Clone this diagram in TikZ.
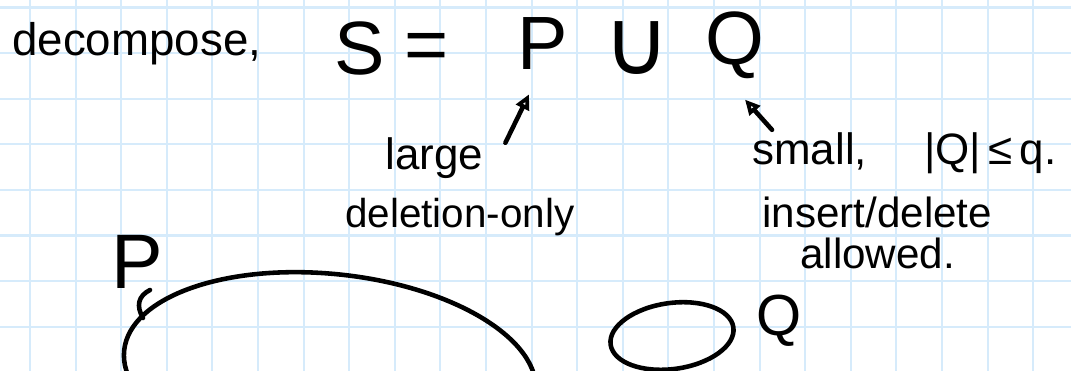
\documentclass[tikz,border=0pt]{standalone}
\usepackage{fontspec}
\setmainfont{Liberation Sans}
\newfontfamily\symbfont{DejaVu Sans}
\usetikzlibrary{arrows.meta}
\definecolor{gridblue}{RGB}{214,235,251}
\tikzset{
  ink/.style={line width=2.6pt, line cap=round, line join=round},
  big/.style={inner sep=0pt, font=\fontsize{43}{50}\selectfont},
  note/.style={inner sep=0pt, font=\fontsize{25}{30}\selectfont},
  pointer/.style={ink, -{Triangle[open, length=3mm, width=2.8mm]}},
}
\begin{document}
\begin{tikzpicture}[x=0.02cm, y=-0.02cm]
\useasboundingbox (0,0) rectangle (1071,371);
\fill[white] (0,0) rectangle (1071,371);
% grid paper
\foreach \k in {0,...,22}
  \draw[gridblue, line width=1.2pt] (30+45.6*\k,0) -- (30+45.6*\k,371);
\foreach \k in {0,...,7}
  \draw[gridblue, line width=1.2pt] (0,7.5+45.6*\k) -- (1071,7.5+45.6*\k);
% top line
\node[big, font=\fontsize{26}{30}\selectfont, anchor=base west] (decomp) at (12,56) {decompose,};
\node[big, anchor=base] (S) at (360,75) {S};
\node[big] (eq) at (427,52) {=};
\node[big, anchor=base] (P) at (543,70) {P};
\node[big, font=\symbfont\fontsize{52}{58}\selectfont] (cup) at (637,48) {∪};
\node[big, anchor=base] (Q) at (735,65) {Q};
% notes
\node[note, anchor=base west] (large) at (385,170) {large};
\node[note, font=\fontsize{23}{28}\selectfont, anchor=base west] (delonly) at (345,228) {deletion-only};
\node[note, anchor=base west] (small) at (752,165) {small,\hspace{1.3em}|Q|\,≤\,q.};
\node[note, font=\fontsize{24}{28}\selectfont, anchor=base west] (insdel) at (762,228) {insert/delete};
\node[note, font=\fontsize{24}{28}\selectfont, anchor=base west] (allowed) at (800,268) {allowed.};
\draw[pointer] ([shift={(22,5)}]large.north east) -- ([shift={(-14,24)}]P.south);
\draw[pointer] ([shift={(20,-3)}]small.north west) -- ([shift={(10,20)}]Q.south);
% the two sets
\begin{scope}
\clip (0,0) rectangle (1071,371);
\draw[ink, rotate around={-6:(330,372)}] (330,372) ellipse [x radius=4.14cm, y radius=1.96cm];
\end{scope}
\draw[ink] (150,290) .. controls (138,296) and (136,306) .. (143,318);
\node[big, font=\fontsize{44}{50}\selectfont, anchor=base] (Pset) at (137,288) {P};
\draw[ink, rotate around={8:(672,336)}] (672,336) ellipse [x radius=1.24cm, y radius=0.66cm];
\node[big, font=\fontsize{33}{40}\selectfont, anchor=base] (Qset) at (779,335) {Q};
\end{tikzpicture}
\end{document}
